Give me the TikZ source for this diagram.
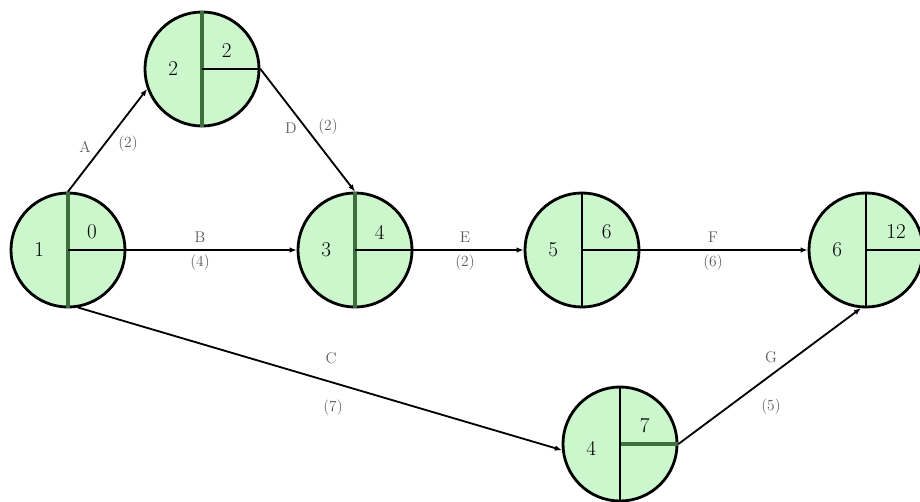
\documentclass[tikz,border=0pt]{standalone}
\usetikzlibrary{arrows.meta}
\definecolor{evtFill}{RGB}{204,246,204}
\definecolor{evtLine}{RGB}{62,112,62}
\begin{document}
\begin{tikzpicture}[x=0.025cm, y=-0.025cm, line cap=round, line join=round]
% Activity network with event times
\providecommand{\evtSize}{2.85cm}
\tikzset{
  evt/.style={circle, draw=black, line width=2pt, fill=evtFill, minimum size=\evtSize, inner sep=0pt},
  evtnum/.style={font=\fontsize{15}{18}\selectfont, text=black},
  evttime/.style={font=\fontsize{15}{18}\selectfont, text=black},
  act/.style={line width=1.3pt, -{Latex[length=5pt,width=4pt]}},
  actlbl/.style={font=\fontsize{11}{13}\selectfont, text=black!65, inner sep=1pt}
}
\useasboundingbox (0,0) rectangle (920,501);
% Events
\node[evt] (n1) at (68,250) {};
\node[evt] (n2) at (202,69) {};
\node[evt] (n3) at (355,250) {};
\node[evt] (n5) at (582,250) {};
\node[evt] (n6) at (866,250) {};
\node[evt] (n4) at (620,444) {};
% Split lines inside the events
\begin{scope}[line width=2.2pt, draw=evtLine, line cap=butt]
  \draw (n1.north) -- (n1.south);
  \draw (n2.north) -- (n2.south);
  \draw (n3.north) -- (n3.south);
  \draw (n4.center) -- (n4.east);
\end{scope}
\begin{scope}[line width=1.5pt, draw=black, line cap=butt]
  \draw (n1.center) -- (n1.east);
  \draw (n2.center) -- (n2.east);
  \draw (n3.center) -- (n3.east);
  \draw (n5.north) -- (n5.south);
  \draw (n5.center) -- (n5.east);
  \draw (n6.north) -- (n6.south);
  \draw (n6.center) -- (n6.east);
  \draw (n4.north) -- (n4.south);
\end{scope}
% Event numbers
\node[evtnum] (k1) at ([xshift=-0.72cm]n1.center) {1};
\node[evtnum] (k2) at ([xshift=-0.72cm]n2.center) {2};
\node[evtnum] (k3) at ([xshift=-0.72cm]n3.center) {3};
\node[evtnum] (k5) at ([xshift=-0.72cm]n5.center) {5};
\node[evtnum] (k6) at ([xshift=-0.72cm]n6.center) {6};
\node[evtnum] (k4) at ([xshift=-0.72cm,yshift=-0.12cm]n4.center) {4};
% Earliest times
\node[evttime] (t1) at ([xshift=0.6cm,yshift=0.45cm]n1.center) {0};
\node[evttime] (t2) at ([xshift=0.62cm,yshift=0.45cm]n2.center) {2};
\node[evttime] (t3) at ([xshift=0.62cm,yshift=0.45cm]n3.center) {4};
\node[evttime] (t5) at ([xshift=0.62cm,yshift=0.45cm]n5.center) {6};
\node[evttime] (t6) at ([xshift=0.75cm,yshift=0.45cm]n6.center) {12};
\node[evttime] (t4) at ([xshift=0.62cm,yshift=0.45cm]n4.center) {7};
% Activities
\draw[act] (n1.north) -- (n2.200);
\draw[act] (n2.east) -- (n3.north);
\draw[act] (n1.east) -- (n3.west);
\draw[act] (n3.east) -- (n5.west);
\draw[act] (n5.east) -- (n6.west);
\draw[act] (n1.280) -- (n4.186);
\draw[act] (n4.east) -- (n6.265);
% Activity labels
\node[actlbl] (la) at (85,147) {A};
\node[actlbl] (da) at (128,144) {(2)};
\node[actlbl] (ld) at (291,128) {D};
\node[actlbl] (dd) at (328,127) {(2)};
\node[actlbl] (lb) at (200,237) {B};
\node[actlbl] (db) at (200,263) {(4)};
\node[actlbl] (le) at (465,237) {E};
\node[actlbl] (de) at (465,263) {(2)};
\node[actlbl] (lf) at (713,237) {F};
\node[actlbl] (df) at (713,263) {(6)};
\node[actlbl] (lc) at (331,358) {C};
\node[actlbl] (dc) at (333,408) {(7)};
\node[actlbl] (lg) at (771,357) {G};
\node[actlbl] (dg) at (771,407) {(5)};
\end{tikzpicture}
\end{document}
